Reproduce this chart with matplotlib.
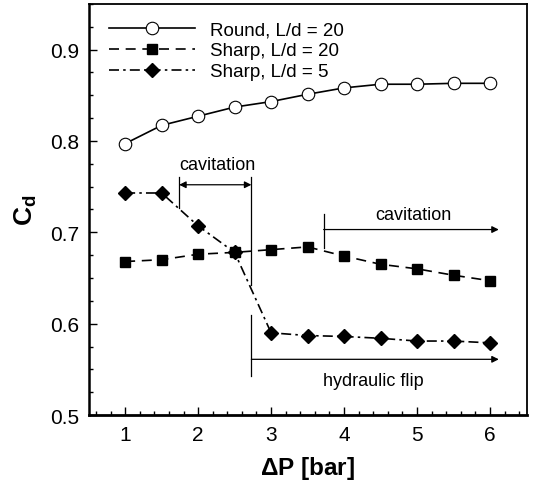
import numpy as np
import matplotlib
matplotlib.use('Agg')
import matplotlib.pyplot as plt
from matplotlib.ticker import MultipleLocator

plt.rcParams['font.family'] = ['Liberation Sans', 'DejaVu Sans']
plt.rcParams['mathtext.fontset'] = 'custom'
plt.rcParams['mathtext.rm'] = 'Liberation Sans'
plt.rcParams['mathtext.bf'] = 'Liberation Sans:bold'

# Data
dp = np.array([1.0, 1.5, 2.0, 2.5, 3.0, 3.5, 4.0, 4.5, 5.0, 5.5, 6.0])
cd_round_20 = np.array([0.797, 0.817, 0.827, 0.837, 0.843, 0.851, 0.858, 0.862, 0.862, 0.863, 0.863])
cd_sharp_20 = np.array([0.668, 0.670, 0.676, 0.678, 0.681, 0.684, 0.674, 0.665, 0.660, 0.653, 0.647])
cd_sharp_5 = np.array([0.743, 0.743, 0.707, 0.678, 0.590, 0.587, 0.586, 0.584, 0.581, 0.581, 0.579])

labels = ['Round, L/d = 20', 'Sharp, L/d = 20', 'Sharp, L/d = 5']

fig = plt.figure(figsize=(5.34, 4.81), dpi=100)
ax = fig.add_axes([0.166, 0.135, 0.82, 0.855])

lw = 1.2
ax.plot(dp, cd_round_20, '-', color='k', lw=lw, marker='o', ms=9,
        mfc='white', mec='k', mew=0.8, label=labels[0])
ax.plot(dp, cd_sharp_20, color='k', lw=lw, ls=(0, (6, 4)), marker='s', ms=7.5,
        mfc='k', mec='k', label=labels[1])
ax.plot(dp, cd_sharp_5, color='k', lw=lw, ls=(0, (6, 2.5, 1.5, 2.5)), marker='D', ms=7.5,
        mfc='k', mec='k', label=labels[2])

# annotations: cavitation (L/d = 5), cavitation (L/d = 20), hydraulic flip
x_cav1 = (1.74, 2.73)
x_cav2 = 3.72
x_flip = 2.73
ax.plot([x_cav1[0], x_cav1[0]], [0.727, 0.760], color='k', lw=0.9)
ax.plot([x_cav1[1], x_cav1[1]], [0.642, 0.760], color='k', lw=0.9)
ax.annotate('', xy=(x_cav1[0], 0.752), xytext=(x_cav1[1], 0.752),
            arrowprops=dict(arrowstyle='<|-|>', color='k', lw=0.9,
                            mutation_scale=10, shrinkA=0, shrinkB=0))
ax.text(2.27, 0.765, 'cavitation', ha='center', va='bottom', fontsize=13)

ax.plot([x_cav2, x_cav2], [0.683, 0.720], color='k', lw=0.9)
ax.annotate('', xy=(6.12, 0.703), xytext=(x_cav2, 0.703),
            arrowprops=dict(arrowstyle='-|>', color='k', lw=0.9,
                            mutation_scale=10, shrinkA=0, shrinkB=0))
ax.text(4.95, 0.710, 'cavitation', ha='center', va='bottom', fontsize=13)

ax.plot([x_flip, x_flip], [0.543, 0.609], color='k', lw=0.9)
ax.annotate('', xy=(6.12, 0.561), xytext=(x_flip, 0.561),
            arrowprops=dict(arrowstyle='-|>', color='k', lw=0.9,
                            mutation_scale=10, shrinkA=0, shrinkB=0))
ax.text(4.4, 0.547, 'hydraulic flip', ha='center', va='top', fontsize=13)

ax.set_xlim(0.5, 6.5)
ax.set_ylim(0.5, 0.95)
ax.set_xticks([1, 2, 3, 4, 5, 6])
ax.set_yticks([0.5, 0.6, 0.7, 0.8, 0.9])
ax.xaxis.set_minor_locator(MultipleLocator(0.2))
ax.yaxis.set_minor_locator(MultipleLocator(0.025))
ax.tick_params(which='both', direction='in', labelsize=15, width=1)
ax.tick_params(which='major', length=6, pad=7)
ax.tick_params(which='minor', length=3)
for s in ax.spines.values():
    s.set_linewidth(1.3)
ax.spines['bottom'].set_linewidth(2)
ax.spines['left'].set_linewidth(1.8)

ax.set_xlabel(r'$\mathbf{\Delta}$P [bar]', fontsize=17.5, fontweight='bold', labelpad=7)
ax.set_ylabel(r'$\mathbf{C_d}$', fontsize=19, labelpad=8)

ax.legend(loc='upper left', bbox_to_anchor=(0.02, 0.985), frameon=False,
          fontsize=13.5, handlelength=4.6, handletextpad=0.8, labelspacing=0.2,
          borderaxespad=0.2)

fig.savefig('out.png', dpi=100)
